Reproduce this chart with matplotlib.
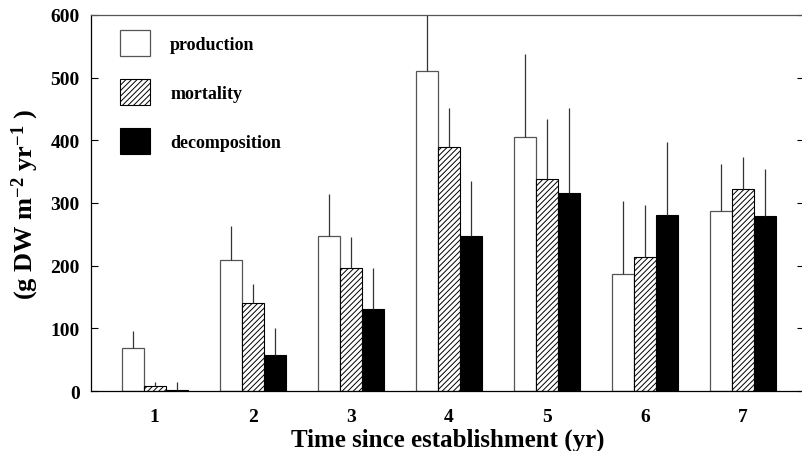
import numpy as np
import matplotlib
matplotlib.use("Agg")
import matplotlib.pyplot as plt

plt.rcParams['font.family'] = ['Liberation Serif', 'DejaVu Serif']
plt.rcParams['font.weight'] = 'bold'
plt.rcParams['mathtext.fontset'] = 'custom'
plt.rcParams['mathtext.rm'] = 'Liberation Serif:bold'
plt.rcParams['mathtext.it'] = 'Liberation Serif:bold'
plt.rcParams['mathtext.bf'] = 'Liberation Serif:bold'
plt.rcParams['hatch.linewidth'] = 0.7

years = [1, 2, 3, 4, 5, 6, 7]
production = [69, 209, 247, 511, 405, 186, 287]
production_err = [27, 54, 68, 110, 133, 117, 76]
mortality = [8, 141, 197, 390, 338, 214, 322]
mortality_err = [7, 30, 48, 62, 96, 82, 51]
decomposition = [2, 57, 131, 247, 316, 281, 279]
decomposition_err = [12, 44, 65, 88, 136, 116, 75]

x = np.array(years, dtype=float)
w = 0.225

fig = plt.figure(figsize=(8.02, 4.52), dpi=100)
ax = fig.add_axes([0.1135, 0.1327, 0.889, 0.832])

ax.bar(x - w, production, w, color='white', edgecolor='#555555', linewidth=0.9,
       label='production')
ax.bar(x, mortality, w, color='white', edgecolor='black', linewidth=0.8,
       hatch='//////', label='mortality')
ax.bar(x + w, decomposition, w, color='black', edgecolor='black', linewidth=0.8,
       label='decomposition')

z = np.zeros(len(x))
ax.errorbar(x - w, production, yerr=[z, production_err], fmt='none',
            ecolor='#333333', elinewidth=0.9, capsize=0)
ax.errorbar(x, mortality, yerr=[z, mortality_err], fmt='none',
            ecolor='#333333', elinewidth=0.9, capsize=0)
ax.errorbar(x + w, decomposition, yerr=[z, decomposition_err], fmt='none',
            ecolor='#333333', elinewidth=0.9, capsize=0)

ax.set_xlim(0.35, 7.62)
ax.set_ylim(0, 600)
ax.set_xticks(years)
ax.set_xticklabels([str(y) for y in years], fontsize=14, fontweight='bold')
ax.set_yticks(range(0, 601, 100))
ax.set_yticklabels([str(v) for v in range(0, 601, 100)], fontsize=14,
                   fontweight='bold')
ax.tick_params(axis='x', length=0, pad=12)
ax.tick_params(axis='y', direction='in', length=5, width=0.8, pad=8,
               right=True)

for s in ax.spines.values():
    s.set_linewidth(0.9)
ax.spines['top'].set_color('#555555')

ax.set_ylabel('(g DW m$^{-2}$ yr$^{-1}$ )', fontsize=19, fontweight='bold',
              labelpad=7)
ax.set_xlabel('Time since establishment (yr)', fontsize=18, fontweight='bold',
              labelpad=2)

leg = ax.legend(loc='upper left', bbox_to_anchor=(0.041, 0.96), frameon=False,
                fontsize=13, handlelength=1.66, handleheight=1.8,
                labelspacing=1.3, handletextpad=1.1, borderpad=0.0,
                borderaxespad=0.0)

fig.savefig('out.png', dpi=100)
